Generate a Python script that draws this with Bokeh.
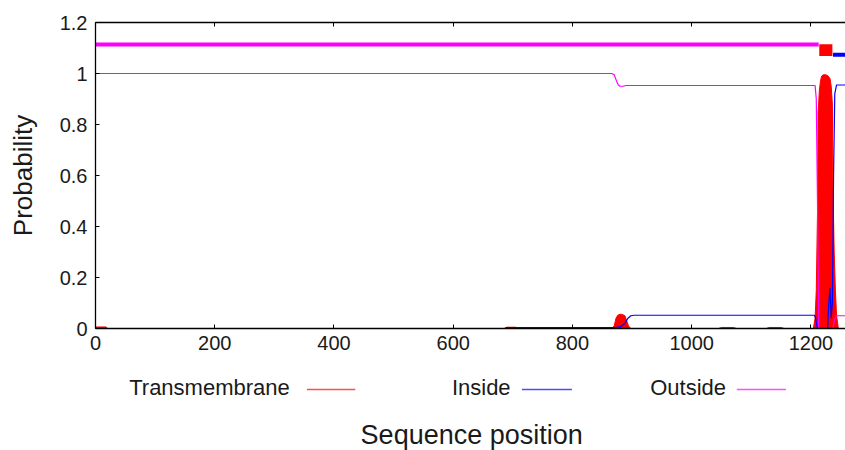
from bokeh.plotting import figure
from bokeh.layouts import column
from bokeh.models import Range1d, LinearAxis, FixedTicker, NumeralTickFormatter, CustomJSTickFormatter
from bokeh.core.properties import value
from bokeh.embed import file_html
from bokeh.resources import INLINE

# ---- data ----
series_names = ["Transmembrane", "Inside", "Outside"]
series_colors = ["#ff0000", "#0000ff", "#ff00ff"]

# transmembrane posterior probability (filled)
tm_pos = [0, 1, 18, 20, 686, 690, 705, 708, 866, 870, 873, 876, 880, 884, 888, 891, 894, 898,
          1045, 1050, 1070, 1075, 1125, 1130, 1150, 1155,
          1204, 1207, 1209, 1211, 1212, 1213, 1214, 1216, 1218, 1221, 1225, 1229, 1232, 1234,
          1236, 1237, 1239, 1241, 1243, 1246, 1273]
tm_prob = [0, 0.006, 0.006, 0, 0, 0.005, 0.005, 0, 0, 0.01, 0.04, 0.052, 0.056, 0.055, 0.05, 0.03, 0.01, 0,
           0, 0.004, 0.004, 0, 0, 0.004, 0.004, 0,
           0, 0.04, 0.15, 0.45, 0.85, 0.88, 0.93, 0.97, 0.99, 0.995, 0.995, 0.99, 0.98, 0.95,
           0.88, 0.55, 0.3, 0.15, 0.05, 0, 0]

# inside probability
in_pos = [0, 686, 690, 860, 870, 880, 888, 893, 898, 903, 1206, 1208, 1210, 1212,
          1228, 1230, 1232, 1234, 1236, 1238, 1240, 1243, 1273]
in_prob = [0, 0, 0.004, 0.004, 0.004, 0.006, 0.02, 0.04, 0.05, 0.052, 0.052, 0.04, 0.01, 0,
           0, 0.1, 0.16, 0.04, 0.1, 0.6, 0.92, 0.955, 0.955]

# outside probability
out_pos = [0, 866, 870, 874, 877, 880, 885, 890, 1207, 1209, 1211, 1213, 1237, 1239, 1242, 1273]
out_prob = [1.0, 1.0, 0.995, 0.97, 0.955, 0.95, 0.95, 0.953, 0.953, 0.9, 0.5, 0.0, 0.0, 0.03, 0.05, 0.05]

# predicted topology (top bars)
topo_start = [1, 1214, 1237]
topo_end = [1213, 1236, 1273]
topo_type = ["Outside", "Transmembrane", "Inside"]

x_ticks = [0, 200, 400, 600, 800, 1000, 1200]
y_ticks = [0, 0.2, 0.4, 0.6, 0.8, 1, 1.2]

FONT = "Liberation Sans"
TXT = "#1a1a1a"

xr = Range1d(0, 1258)

p = figure(width=845, height=360, output_backend="svg", toolbar_location=None, title=None,
           x_range=xr, y_range=Range1d(0, 1.2),
           min_border_left=95, min_border_right=0, min_border_top=22, min_border_bottom=32)
p.outline_line_color = None
p.xgrid.visible = False
p.ygrid.visible = False
p.background_fill_color = "white"
p.border_fill_color = "white"

# probability curves
p.varea(x=tm_pos, y1=[0] * len(tm_pos), y2=tm_prob, fill_color=series_colors[0])
p.line(tm_pos, tm_prob, line_color=series_colors[0], line_width=1)
p.line(in_pos, in_prob, line_color=series_colors[1], line_width=1.2)
p.line(out_pos, out_prob, line_color=series_colors[2], line_width=1.2)

# topology bars on top
for s, e, t in zip(topo_start, topo_end, topo_type):
    if t == "Outside":
        p.segment(x0=[s - 1], y0=[1.114], x1=[e], y1=[1.114], line_color=series_colors[2], line_width=4)
    elif t == "Inside":
        p.segment(x0=[s], y0=[1.074], x1=[e], y1=[1.074], line_color=series_colors[1], line_width=4)
    else:
        p.quad(left=[s], right=[e], bottom=[1.069], top=[1.115], fill_color=series_colors[0], line_color=None)

# axes
for ax in (p.xaxis[0], p.yaxis[0]):
    ax.major_tick_in = 4
    ax.major_tick_out = 0
    ax.minor_tick_line_color = None
    ax.axis_line_color = "black"
    ax.axis_line_width = 1.3
    ax.major_tick_line_color = "black"
    ax.major_label_text_font = FONT
    ax.major_label_text_font_size = "20px"
    ax.major_label_text_color = TXT
p.xaxis.ticker = FixedTicker(ticks=x_ticks)
p.yaxis.ticker = FixedTicker(ticks=y_ticks)
p.yaxis.formatter = NumeralTickFormatter(format="0.[0]")
p.xaxis.major_label_standoff = 7
p.yaxis.major_label_standoff = 8
p.yaxis.axis_label = "Probability"
p.yaxis.axis_label_text_font = FONT
p.yaxis.axis_label_text_font_size = "26px"
p.yaxis.axis_label_text_font_style = "normal"
p.yaxis.axis_label_text_color = TXT
p.yaxis.axis_label_standoff = 19

top = LinearAxis(ticker=FixedTicker(ticks=x_ticks), formatter=CustomJSTickFormatter(code="return ''"))
top.major_tick_in = 4
top.major_tick_out = 0
top.minor_tick_line_color = None
top.axis_line_color = "black"
top.axis_line_width = 1.3
top.major_label_standoff = 0
p.add_layout(top, "above")

# ---- lower strip: legend + x-axis title (y measured in pixels from strip top) ----
q = figure(width=845, height=90, output_backend="svg", toolbar_location=None, title=None,
           x_range=xr, y_range=Range1d(90, 0),
           min_border_left=95, min_border_right=0, min_border_top=0, min_border_bottom=0,
           x_axis_location=None, y_axis_location=None)
q.outline_line_color = None
q.xgrid.visible = False
q.ygrid.visible = False
q.background_fill_color = "white"
q.border_fill_color = "white"

leg_text_x = [56.5, 597.8, 930.4]
leg_line_x0 = [354.6, 715.2, 1075.8]
leg_line_x1 = [435.6, 799.1, 1158.0]
q.text(x=leg_text_x, y=[26.5] * 3, text=series_names, text_font=value(FONT), text_font_size="22px",
       text_color=TXT, text_align="left", text_baseline="alphabetic")
q.segment(x0=leg_line_x0, y0=[29] * 3, x1=leg_line_x1, y1=[29] * 3, line_color=series_colors,
          line_width=1.5, line_alpha=0.7)
q.text(x=[631], y=[74], text=["Sequence position"], text_font=value(FONT), text_font_size="27px",
       text_color=TXT, text_align="center", text_baseline="alphabetic")

layout = column(p, q, spacing=0)
open("out.html", "w").write(file_html(layout, INLINE))
